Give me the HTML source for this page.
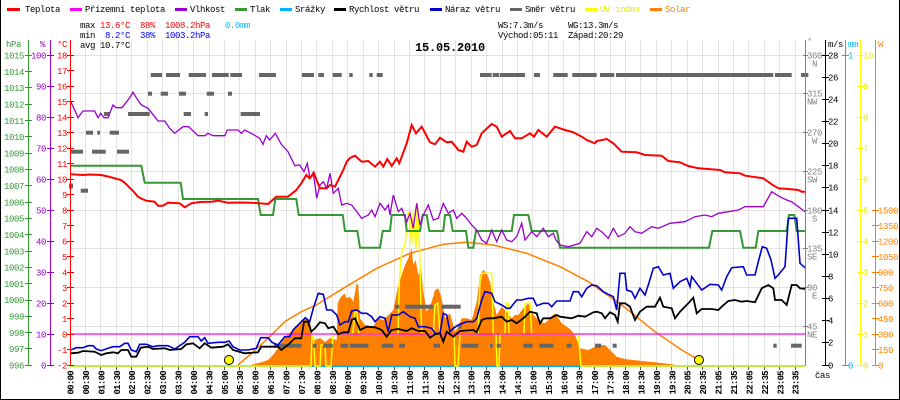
<!DOCTYPE html>
<html><head><meta charset="utf-8"><style>
html,body{margin:0;padding:0;background:#fff;}
svg{display:block;}
text{font-family:"Liberation Mono","DejaVu Sans Mono",monospace;font-size:9px;letter-spacing:-0.4px;}
.t{font-weight:bold;font-size:9px;letter-spacing:-0.7px;}
</style></head><body>
<svg width="900" height="400" viewBox="0 0 900 400" xmlns="http://www.w3.org/2000/svg">
<rect x="0" y="0" width="900" height="400" fill="#fff"/>
<path d="M0.5,0V399.5H899.5V0" fill="none" stroke="#000" stroke-width="1"/>

<!-- grid -->
<path stroke="#e6e1e1" stroke-width="1" fill="none" d="M85.5,40V365M100.5,40V365M116.5,40V365M131.5,40V365M147.5,40V365M162.5,40V365M178.5,40V365M193.5,40V365M209.5,40V365M224.5,40V365M239.5,40V365M255.5,40V365M270.5,40V365M286.5,40V365M301.5,40V365M316.5,40V365M332.5,40V365M347.5,40V365M363.5,40V365M378.5,40V365M394.5,40V365M409.5,40V365M424.5,40V365M440.5,40V365M455.5,40V365M471.5,40V365M486.5,40V365M502.5,40V365M517.5,40V365M532.5,40V365M548.5,40V365M563.5,40V365M579.5,40V365M594.5,40V365M610.5,40V365M625.5,40V365M640.5,40V365M656.5,40V365M671.5,40V365M687.5,40V365M702.5,40V365M718.5,40V365M733.5,40V365M748.5,40V365M764.5,40V365M779.5,40V365M795.5,40V365
M70,55.5H805M70,93.5H805M70,132.5H805M70,171.5H805M70,210.5H805M70,248.5H805M70,287.5H805M70,326.5H805"/>

<!-- x ticks -->
<path stroke="#555" stroke-width="1" fill="none" d="M85.5,367V370M100.5,367V370M116.5,367V370M131.5,367V370M147.5,367V370M162.5,367V370M178.5,367V370M193.5,367V370M209.5,367V370M224.5,367V370M239.5,367V370M255.5,367V370M270.5,367V370M286.5,367V370M301.5,367V370M316.5,367V370M332.5,367V370M347.5,367V370M363.5,367V370M378.5,367V370M394.5,367V370M409.5,367V370M424.5,367V370M440.5,367V370M455.5,367V370M471.5,367V370M486.5,367V370M502.5,367V370M517.5,367V370M532.5,367V370M548.5,367V370M563.5,367V370M579.5,367V370M594.5,367V370M610.5,367V370M625.5,367V370M640.5,367V370M656.5,367V370M671.5,367V370M687.5,367V370M702.5,367V370M718.5,367V370M733.5,367V370M748.5,367V370M764.5,367V370M779.5,367V370M795.5,367V370"/>

<!-- solar area -->
<polygon fill="#ff8000" points="250,365 254.7,364 262,362 268,360 273,355 278,348.3 283,340 288,334.3 294.7,329 301.7,320 305,318 310,320 311.7,335 315,340 320,338 325,342 330,338 336.7,340 337.7,303.3 340,298.3 344.3,293.3 346.7,298.3 350,296.7 353.3,301.7 356.7,283.3 358.3,285 360,318.3 365,325 373.3,326.7 378.3,318.3 383.3,320 388.3,315 393.3,310 398.3,285 401.7,275 405,265 408.3,258.3 411.7,248.3 413.3,265 415.7,260 418.3,275 421,268.3 423.3,291.7 426.7,311.7 431.7,301.7 435,290 438.3,288.3 441.7,298.3 445,318.3 450,313.3 455,331.7 458.3,326.7 461.7,318.3 466.7,318.3 471.7,320 476.7,301.7 480,275 483.3,270 486.7,273.3 490,281.7 493.3,301.7 496.7,315 501.7,306.7 506.7,311.7 511.7,318.3 515,315 518.3,315 523.3,308.3 528.3,303.3 533.3,315 540,321.7 545,323.3 550,318.3 555,313.3 561.7,323.3 570,329 575,335 580,348.3 588.3,350 598.3,345 605,345 611.7,351.7 616.7,356.7 625,359 641.7,361 655,362.3 671.7,364.3 675,365"/>
<!-- solar theoretical -->
<polyline fill="none" stroke="#ff8000" stroke-width="1.5" points="238,365 252,353 268,338.3 284.7,321.7 301.3,311.7 316.3,305 343.3,288.3 376.7,268.3 410,253.3 443.3,244.3 466.7,242.3 493.3,245 526.7,253.3 560,266.7 588.3,281.7 621.7,305 655,331.7 681.7,350 699,360"/>

<!-- rain 0 -->
<line x1="70" y1="366" x2="805" y2="366" stroke="#00b4ff" stroke-width="2"/>
<!-- UV -->
<polyline fill="none" stroke="#ffff00" stroke-width="1.5" points="70,366 311,366 312,334 313.3,334 315,366 320,366 321,345 325,345 326,366 331,366 333,334 352.7,334 355,311.7 357,311.7 359,334 398,334 399.3,281.7 401.7,251.7 405,245 408.3,211.7 410,221.7 411.7,245 413.3,211.7 416,248.3 417.3,203.3 419.3,240 421.7,334 433.3,334 435,305 437.7,303 440,334 454,334 455,366 458,366 460,334 478,334 480,281.7 481.7,273.3 491.7,273.3 493.3,334 496,334 497,366 499,366 500,334 505,334 506,303.3 508.3,303.3 509,334 524,334 525,303.3 530,303.3 531.7,334 578.3,334 581,366 805,366"/>

<!-- wind direction bars -->
<g fill="#666">
<rect x="150.7" y="73" width="11.3" height="4"/><rect x="166" y="73" width="14" height="4"/><rect x="188.7" y="73" width="17.3" height="4"/><rect x="212" y="73" width="16.7" height="4"/><rect x="230.3" y="73" width="11.7" height="4"/><rect x="259" y="73" width="17" height="4"/><rect x="302" y="73" width="12" height="4"/><rect x="318.3" y="73" width="5.7" height="4"/><rect x="332.7" y="73" width="9" height="4"/><rect x="349.3" y="73" width="3.4" height="4"/><rect x="369.3" y="73" width="3.4" height="4"/><rect x="376.7" y="73" width="6" height="4"/><rect x="480" y="73" width="11.7" height="4"/><rect x="492.7" y="73" width="6.6" height="4"/><rect x="500" y="73" width="25" height="4"/><rect x="534" y="73" width="6" height="4"/><rect x="553.3" y="73" width="14.4" height="4"/><rect x="572.3" y="73" width="24.4" height="4"/><rect x="600" y="73" width="14.3" height="4"/><rect x="616" y="73" width="157.3" height="4"/><rect x="775" y="73" width="16.7" height="4"/><rect x="801" y="73" width="7.3" height="4"/>
<rect x="148" y="91.7" width="4" height="4"/><rect x="160.7" y="91.7" width="7.3" height="4"/><rect x="179" y="91.7" width="7" height="4"/><rect x="206.7" y="91.7" width="7.3" height="4"/><rect x="228" y="91.7" width="4" height="4"/>
<rect x="104" y="112" width="5.7" height="4"/><rect x="128" y="112" width="21.7" height="4"/><rect x="183.7" y="112" width="7.3" height="4"/><rect x="204.7" y="112" width="3.3" height="4"/><rect x="240.7" y="112" width="19.3" height="4"/>
<rect x="86" y="130.7" width="7" height="4"/><rect x="97.3" y="130.7" width="2.7" height="4"/><rect x="109.7" y="130.7" width="9.3" height="4"/>
<rect x="70.7" y="149.7" width="12.3" height="4"/><rect x="92" y="149.7" width="13.7" height="4"/><rect x="117" y="149.7" width="12" height="4"/>
<rect x="69" y="183.5" width="4" height="5"/><rect x="80.7" y="188.7" width="7.3" height="4"/>
<rect x="395" y="304.7" width="4.3" height="4"/><rect x="405" y="304.7" width="28.3" height="4"/><rect x="441.7" y="304.7" width="19" height="4"/>
<rect x="458.3" y="324.7" width="3.4" height="4"/>
<rect x="274" y="343.7" width="27.3" height="4"/><rect x="312.7" y="343.7" width="4" height="4"/><rect x="323.3" y="343.7" width="9.4" height="4"/><rect x="340.7" y="343.7" width="7.6" height="4"/><rect x="350" y="343.7" width="18.3" height="4"/><rect x="381.7" y="343.7" width="11.6" height="4"/><rect x="399.3" y="343.7" width="5.7" height="4"/><rect x="433.3" y="343.7" width="6.7" height="4"/><rect x="461.7" y="343.7" width="16.6" height="4"/><rect x="490" y="343.7" width="2.7" height="4"/><rect x="496.7" y="343.7" width="4" height="4"/><rect x="523.3" y="343.7" width="9.4" height="4"/><rect x="539.3" y="343.7" width="14" height="4"/><rect x="566.7" y="343.7" width="5" height="4"/><rect x="595" y="343.7" width="6" height="4"/><rect x="612.7" y="343.7" width="4" height="4"/><rect x="773.3" y="343.7" width="3.4" height="4"/><rect x="791" y="343.7" width="10.7" height="4"/>
</g>

<!-- ground temperature -->
<line x1="70" y1="334" x2="805" y2="334" stroke="#ff00ff" stroke-width="1.3"/>

<!-- pressure -->
<path fill="none" stroke="#339933" stroke-width="2" d="M70,165.7 H141.3 L144.7,182.7 H180.7 L183,199 H258 L260.7,215 H273 L275.3,199 H296.3 L298.7,215 H342.7 L345,231 H357.3 L360,247.7 H380 L382.7,231 H390 L391.7,215 H405 L406.7,231 H420 L422.7,215 H426.7 L429.3,231 H443.3 L445,215 H450 L452.7,231 H466 L468.3,247.7 H473.3 L476,231 H511.7 L514,215 H528.3 L531.7,231 H557 L560,247.7 H709 L712.3,231 H740 L743.3,247.7 H755.7 L758.3,231 H786.7 L789,215 H794.3 L796.7,231 H805.7"/>

<!-- humidity -->
<polyline fill="none" stroke="#9900cc" stroke-width="1.3" points="70.7,101.7 74.7,110 78,117.7 83,111 94.7,111 98,117.7 100.7,113.3 104,117.7 108,117.7 113,105 116.3,107.7 122,107.7 129.7,97.7 133,92.3 136.3,97.7 141.3,105 148,108.3 154.7,116.7 158,121 164.7,121 169.7,128.3 174.7,133.3 183,126.7 188.7,126.7 198,135.7 204.7,135.7 208,133.3 213,135.7 224.7,135.7 227.3,130 238,130 241.3,133.3 244.7,130 253,134.3 259.7,138.3 263,144.3 266.3,135.7 269.7,140 275.3,133.3 281.3,144.3 288,151.7 291.3,158.3 294.7,165.7 299.7,165 304,171.7 307.3,163.3 310,178.3 313.3,172.3 316.7,198.3 320,185 323.3,181.7 326.7,188.3 330,173.3 333.3,193.3 338.3,188.3 341.7,205 346.7,203.3 351.7,205 361.7,218.3 368.3,215 371.7,210 375,216.7 380,203.3 385,210 388.3,205 390,215 393.3,195 398.3,211.7 401.7,208.3 406.7,221.7 410,213.3 413.3,228.3 416.7,203.3 420,225 423.3,215 428.3,205 433.3,220 438.3,218.3 443.3,203.3 448.3,213.3 453.3,210 456.7,218.3 461.7,213.3 466.7,218.3 471.7,225 476.7,230 481.7,240 486.7,243.3 491.7,230 496.7,241.7 501.7,230 506.7,240 511.7,241.7 516.7,236.7 521.7,223.3 525,240 531.7,231.7 536.7,236.7 543.3,228.3 548.3,236.7 553.3,233.3 556,240 560,245 568.3,246.7 580,243.3 586.7,231.7 591.7,236.7 596.7,228.3 601.7,231.7 608.3,238.3 613.3,228.3 618.3,236.7 625,233.3 630,226.7 635,231.7 641.7,233.3 651.7,226.7 658.3,228.3 670,223.3 685,221.7 695,216.7 705,215 711.7,216.7 718.3,213.3 728.3,211.7 738.3,210 745,206.7 755,206.7 763.3,206.7 771.7,191.7 776.7,195 781.7,197.7 786.7,200 791.7,201.7 798.3,206.7 805,211.7"/>

<!-- temperature -->
<polyline fill="none" stroke="#ff0000" stroke-width="2" points="70.7,174.3 83,175 90,174.5 101,175 108,176.5 114.7,178.3 121,180 125,183 129.7,187.7 134,192 138,196.7 142,199 146.3,200.7 154.7,201.7 158,205.7 163,205.7 168,202.7 179.7,203.3 184.7,207.3 191.3,203.3 200,202 211.3,201.7 218,200.7 228,202.7 240,202.5 251.3,202.7 268,204 276.3,196.7 288,196.7 296.3,190 301.3,183.3 306.3,175 309.7,178.3 314,173.3 317.3,181.7 320,188.3 326.7,188.3 330,185 335,186.7 343.3,170 346.7,161.7 350,158 355,155.7 361.7,161.7 368.3,161 375,166.7 380,161.7 383.3,166.7 387.3,159 391.7,166 396.7,158.3 399.3,163.3 406.7,143.3 411.7,125 416,133.3 421.7,126.7 430,142.3 435,144.3 440,137.7 446.7,142.3 451.7,141.7 458.3,150 463.3,151.7 466.7,141.7 471.7,146.7 476.7,145 481.7,133.3 491.7,124 496.7,126.7 501.7,136.7 510,131 515,138.3 521.7,138.3 530,133.3 534,136.7 538.3,130 546.7,136.7 555,126.7 560,128.3 565,130 573.3,132.3 581.7,136.7 586.7,140 595,143.3 596.7,141 606.7,139 613.3,143.3 621.7,151.7 636.7,152.3 645,155 661.7,155.7 668.3,161 680,162.3 688.3,166 698.3,168.3 720,170 725,172.3 740,173.3 745,175.7 763.3,178.3 771.7,184.3 778.3,188.3 788.3,189 798.3,190 801.7,191.7 805.7,191.7"/>

<!-- gust -->
<polyline fill="none" stroke="#0000cc" stroke-width="1.6" points="70.7,350 76.3,347.7 83,347.7 88,345.7 93,345.7 96.3,349 101.3,350.7 108,348.3 113,346.7 119.7,346.7 124.7,343.3 128,343.3 131.3,350 136.3,351.7 139.7,344.3 146.3,344.3 153,346.7 158,345.7 168,345.7 174.7,349 179.7,345.7 184.7,342.3 189.7,336.7 198,336.7 201.3,341 204.7,337.7 208,343.3 218,342.3 224.7,342.3 229,341 233,346.7 239.7,350 248,350 256.3,348.3 260.7,337.7 268,337.7 272,342.3 278,345 284.7,336.7 289.7,336.7 293,330 301.3,321.7 305.3,317.7 309.7,321.7 313.3,308.3 318.3,293.3 323.3,294.3 326.7,310 331.7,310 336.7,315 340,325 345,321.7 348.3,321.7 351.7,311 356.7,310 361.7,313.3 366.7,313.3 371.7,316.7 375,321.7 380,316.7 385,318.3 388.3,331.7 391.7,315 398.3,315 403.3,311.7 410,316.7 415,318.3 418.3,326.7 425,326.7 431.7,328.3 435,333.3 440,333.3 443.3,313.3 446.7,315 450,331.7 453.3,328.3 458.3,325 466.7,321.7 473.3,321.7 476.7,318.3 481.7,300 485,291.7 491.7,293.3 495,301.7 501.7,305 506.7,308.3 510,308.3 516.7,300 521.7,300 528.3,298.3 533.3,298.3 536.7,305.7 543.3,303.3 548.3,303.3 551.7,306.7 556.7,301 570,301 573.3,291.7 578.3,291.7 581.7,296.7 586.7,288.3 591.7,285 596.7,285.7 603.3,291.7 608.3,294.3 613.3,296.7 616.7,310 620,273.3 625,273.3 626.7,290 631.7,291.7 635,298.3 640,288.3 645,295 648.3,285 653.3,268.3 658.3,266.7 663.3,275 670,273.3 673.3,288.3 680,281.7 686.7,278.3 690,286.7 691.7,276.7 696.7,283.3 701.7,290 710,284.3 718.3,285 721.7,290 726.7,276.7 731.7,267.7 743.3,266.7 746.7,275 755,275 758.3,261.7 762.3,246.7 766.7,248.3 771,260 775,278.3 778.3,275 785,266.7 788.3,218.3 796.7,218.3 800,263.3 805.7,268.3"/>

<!-- wind speed -->
<polyline fill="none" stroke="#000" stroke-width="1.8" points="70.7,353.3 78,352.7 83,351 94.7,351.7 101.3,355 106.3,353.3 113,352.3 118,353.3 121.3,350 128,350 131.3,356.7 136.3,356.7 140.7,347.7 148,346.7 153,349 164.7,348.3 169.7,350 181.3,349 186.3,344.3 193,343.3 199.7,348.3 204.7,343.3 211.3,347.7 223,346.7 228,344.3 233,350 244.7,353.3 258,352.3 261.3,346.7 278,346.7 281.3,350 288,345 294.7,338.3 301.3,338.3 304,321.7 308,321.7 311.3,331.7 315,328.3 320,322.3 325,323.3 328.3,328.3 333.3,326.7 338.3,334.3 343.3,332.3 348.3,332.3 351.7,320 355,318.3 360,330 366.7,326.7 375,327.3 381.7,330 386.7,336.7 391.7,330 398.3,329 406.7,331 411.7,328.3 418.3,331 425,331 430,337.7 435,334.3 440,333.3 443.3,341.7 446.7,331.7 453.3,336.7 460,331 473.3,330 476.7,332.3 481.7,320 486.7,318.3 493.3,318.3 501.7,316.7 506.7,321.7 511.7,320 516.7,323.3 523.3,318.3 530,311.7 536.7,313.3 540,323.3 543.3,318.3 550,318.3 556.7,315 560,316.7 571.7,318.3 578.3,315.7 585,316.7 588.3,315 593.3,312.3 596.7,311.7 601.7,313.3 605,318.3 610,312.3 615,315 617.7,321.7 620,303.3 625,303.3 630,306.7 635,320 640,311.7 646.7,306.7 655,306.7 660,297.7 663.3,306.7 671.7,308.3 675,318.3 680,311.7 688.3,303.3 693.3,297.7 696.7,313.3 701.7,309 711.7,309 718.3,310 721.7,306.7 728.3,301 735,300 741.7,301.7 746.7,301 755,302.3 761.7,288.3 768.3,285 773.3,288.3 775,300 781.7,300 786.7,305 791.7,285 796.7,285 800,288.3 805.7,289"/>

<!-- sunrise / sunset -->
<circle cx="229" cy="360" r="4.5" fill="#ffff00" stroke="#000" stroke-width="1"/>
<circle cx="699" cy="360" r="4.5" fill="#ffff00" stroke="#000" stroke-width="1"/>

<!-- left axes -->
<g stroke-width="1" fill="none">
<path stroke="#339933" d="M28.5,40V366M25,55.5H32M25,71.5H32M25,87.5H32M25,104.5H32M25,120.5H32M25,136.5H32M25,153.5H32M25,169.5H32M25,185.5H32M25,202.5H32M25,218.5H32M25,234.5H32M25,251.5H32M25,267.5H32M25,283.5H32M25,300.5H32M25,316.5H32M25,332.5H32M25,348.5H32M25,365.5H32"/>
<path stroke="#9900cc" d="M50.5,40V366M47,55.5H54M47,86.5H54M47,117.5H54M47,148.5H54M47,179.5H54M47,210.5H54M47,241.5H54M47,272.5H54M47,303.5H54M47,334.5H54M47,365.5H54"/>
<path stroke="#ff0000" d="M70.5,40V366M67,55.5H74M67,70.5H74M67,86.5H74M67,101.5H74M67,117.5H74M67,132.5H74M67,148.5H74M67,163.5H74M67,179.5H74M67,194.5H74M67,210.5H74M67,225.5H74M67,241.5H74M67,256.5H74M67,272.5H74M67,287.5H74M67,303.5H74M67,318.5H74M67,334.5H74M67,349.5H74M67,365.5H74"/>
</g>
<g fill="#339933" text-anchor="end">
<text x="6" y="47" text-anchor="start">hPa</text>
<text x="24" y="58.5">1015</text><text x="24" y="74.8">1014</text><text x="24" y="91.1">1013</text><text x="24" y="107.4">1012</text><text x="24" y="123.8">1011</text><text x="24" y="140.1">1010</text><text x="24" y="156.4">1009</text><text x="24" y="172.7">1008</text><text x="24" y="189">1007</text><text x="24" y="205.3">1006</text><text x="24" y="221.7">1005</text><text x="24" y="238">1004</text><text x="24" y="254.3">1003</text><text x="24" y="270.6">1002</text><text x="24" y="286.9">1001</text><text x="24" y="303.2">1000</text><text x="24" y="319.6">999</text><text x="24" y="335.9">998</text><text x="24" y="352.2">997</text><text x="24" y="368.5">996</text>
</g>
<g fill="#9900cc" text-anchor="end">
<text x="45" y="47">%</text>
<text x="46" y="58.5">100</text><text x="46" y="89.5">90</text><text x="46" y="120.5">80</text><text x="46" y="151.5">70</text><text x="46" y="182.5">60</text><text x="46" y="213.5">50</text><text x="46" y="244.5">40</text><text x="46" y="275.5">30</text><text x="46" y="306.5">20</text><text x="46" y="337.5">10</text><text x="46" y="368.5">0</text>
</g>
<g fill="#ff0000" text-anchor="end">
<text x="67" y="47">°C</text>
<text x="67" y="58.5">18</text><text x="67" y="74">17</text><text x="67" y="89.5">16</text><text x="67" y="105">15</text><text x="67" y="120.5">14</text><text x="67" y="136">13</text><text x="67" y="151.5">12</text><text x="67" y="167">11</text><text x="67" y="182.5">10</text><text x="67" y="198">9</text><text x="67" y="213.5">8</text><text x="67" y="229">7</text><text x="67" y="244.5">6</text><text x="67" y="260">5</text><text x="67" y="275.5">4</text><text x="67" y="291">3</text><text x="67" y="306.5">2</text><text x="67" y="322">1</text><text x="67" y="337.5">0</text><text x="67" y="353">-1</text><text x="67" y="368.5">-2</text>
</g>

<!-- right axes -->
<g stroke-width="1" fill="none">
<path stroke="#808080" d="M805.5,40V366M803,55.5H808M803,93.5H808M803,132.5H808M803,171.5H808M803,210.5H808M803,248.5H808M803,287.5H808M803,326.5H808"/>
<path stroke="#000" d="M825.5,40V366M822,55.5H829M822,77.5H829M822,99.5H829M822,121.5H829M822,143.5H829M822,165.5H829M822,187.5H829M822,210.5H829M822,232.5H829M822,254.5H829M822,276.5H829M822,298.5H829M822,320.5H829M822,342.5H829M822,365.5H829"/>
<path stroke="#00b4ff" d="M845.5,40V366M842,55.5H849M842,365.5H849"/>
<path stroke="#ffff00" d="M860.5,40V366M857,55.5H864M857,86.5H864M857,117.5H864M857,148.5H864M857,179.5H864M857,210.5H864M857,241.5H864M857,272.5H864M857,303.5H864M857,334.5H864M857,365.5H864"/>
<path stroke="#ff8000" d="M875.5,40V366M872,210.5H879M872,225.5H879M872,241.5H879M872,256.5H879M872,272.5H879M872,287.5H879M872,303.5H879M872,318.5H879M872,334.5H879M872,349.5H879M872,365.5H879"/>
</g>
<g fill="#808080">
<text x="807" y="44">°</text>
<text x="807" y="58.5">360</text><text x="817" y="66.5" text-anchor="end">N</text>
<text x="807" y="96.5">315</text><text x="817" y="104.5" text-anchor="end">NW</text>
<text x="807" y="135.5">270</text><text x="817" y="143.5" text-anchor="end">W</text>
<text x="807" y="174.5">225</text><text x="817" y="182.5" text-anchor="end">SW</text>
<text x="807" y="213.5">180</text><text x="817" y="221.5" text-anchor="end">S</text>
<text x="807" y="251.5">135</text><text x="817" y="259.5" text-anchor="end">SE</text>
<text x="807" y="290.5">90</text><text x="817" y="298.5" text-anchor="end">E</text>
<text x="807" y="329.5">45</text><text x="817" y="337.5" text-anchor="end">NE</text>
</g>
<g fill="#000">
<text x="828" y="47">m/s</text>
<text x="828" y="58.5">28</text><text x="828" y="80.5">26</text><text x="828" y="102.5">24</text><text x="828" y="124.5">22</text><text x="828" y="146.5">20</text><text x="828" y="168.5">18</text><text x="828" y="190.5">16</text><text x="828" y="213.5">14</text><text x="828" y="235.5">12</text><text x="828" y="257.5">10</text><text x="828" y="279.5">8</text><text x="828" y="301.5">6</text><text x="828" y="323.5">4</text><text x="828" y="345.5">2</text><text x="828" y="368.5">0</text>
<text x="815" y="378">čas</text>
</g>
<g fill="#00b4ff">
<text x="848" y="47">mm</text><text x="848" y="58.5">1</text><text x="848" y="368.5">0</text>
</g>
<g fill="#e8e800">
<text x="863" y="58.5">10</text><text x="863" y="89.5">9</text><text x="863" y="120.5">8</text><text x="863" y="151.5">7</text><text x="863" y="182.5">6</text><text x="863" y="213.5">5</text><text x="863" y="244.5">4</text><text x="863" y="275.5">3</text><text x="863" y="306.5">2</text><text x="863" y="337.5">1</text><text x="863" y="368.5">0</text>
</g>
<g fill="#ff8000">
<text x="878" y="47">W</text>
<text x="878" y="213.5">1500</text><text x="878" y="229">1350</text><text x="878" y="244.5">1200</text><text x="878" y="260">1050</text><text x="878" y="275.5">900</text><text x="878" y="291">750</text><text x="878" y="306.5">600</text><text x="878" y="322">450</text><text x="878" y="337.5">300</text><text x="878" y="353">150</text><text x="878" y="368.5">0</text>
</g>

<!-- legend -->
<rect x="7" y="8" width="13" height="3" fill="#ff0000"/><text x="25" y="12">Teplota</text>
<rect x="70" y="8" width="12" height="3" fill="#ff00ff"/><text x="85" y="12">Přízemní teplota</text>
<rect x="175" y="8" width="12" height="3" fill="#9900cc"/><text x="190" y="12">Vlhkost</text>
<rect x="235" y="8" width="12" height="3" fill="#339933"/><text x="250" y="12">Tlak</text>
<rect x="280" y="8" width="12" height="3" fill="#00b4ff"/><text x="295" y="12">Srážky</text>
<rect x="334" y="8" width="12" height="3" fill="#000"/><text x="349" y="12">Rychlost větru</text>
<rect x="430" y="8" width="12" height="3" fill="#0000cc"/><text x="445" y="12">Náraz větru</text>
<rect x="510" y="8" width="12" height="3" fill="#666"/><text x="525" y="12">Směr větru</text>
<rect x="585" y="8" width="12" height="3" fill="#ffff00"/><text x="600" y="12" fill="#e8e800">UV index</text>
<rect x="650" y="8" width="12" height="3" fill="#ff8000"/><text x="665" y="12" fill="#ff8000">Solar</text>

<!-- stats -->
<text x="80" y="28">max</text><text x="100" y="28" fill="#ff0000">13.6°C</text><text x="140" y="28" fill="#ff0000">88%</text><text x="165" y="28" fill="#ff0000">1008.2hPa</text><text x="225" y="28" fill="#00c0ff">0.0mm</text>
<text x="80" y="38">min</text><text x="105" y="38" fill="#0000ff">8.2°C</text><text x="140" y="38" fill="#0000ff">38%</text><text x="165" y="38" fill="#0000ff">1003.2hPa</text>
<text x="80" y="48">avg</text><text x="100" y="48">10.7°C</text>
<text x="498" y="28">WS:7.3m/s</text><text x="568" y="28">WG:13.3m/s</text>
<text x="498" y="38">Východ:05:11</text><text x="568" y="38">Západ:20:29</text>
<text x="415" y="51" style="font-size:12px;font-weight:bold;letter-spacing:-0.2px">15.05.2010</text>

<!-- time labels -->
<g class="t" fill="#000" text-anchor="end">
<text class="t" transform="translate(73.5,371) rotate(-90)">00:00</text>
<text class="t" transform="translate(88.9,371) rotate(-90)">00:30</text>
<text class="t" transform="translate(104.4,371) rotate(-90)">01:00</text>
<text class="t" transform="translate(119.8,371) rotate(-90)">01:30</text>
<text class="t" transform="translate(135.2,371) rotate(-90)">02:00</text>
<text class="t" transform="translate(150.7,371) rotate(-90)">02:30</text>
<text class="t" transform="translate(166.1,371) rotate(-90)">03:00</text>
<text class="t" transform="translate(181.5,371) rotate(-90)">03:30</text>
<text class="t" transform="translate(196.9,371) rotate(-90)">04:00</text>
<text class="t" transform="translate(212.4,371) rotate(-90)">04:30</text>
<text class="t" transform="translate(227.8,371) rotate(-90)">05:00</text>
<text class="t" transform="translate(243.2,371) rotate(-90)">05:30</text>
<text class="t" transform="translate(258.7,371) rotate(-90)">06:00</text>
<text class="t" transform="translate(274.1,371) rotate(-90)">06:30</text>
<text class="t" transform="translate(289.5,371) rotate(-90)">07:00</text>
<text class="t" transform="translate(305,371) rotate(-90)">07:30</text>
<text class="t" transform="translate(320.4,371) rotate(-90)">08:00</text>
<text class="t" transform="translate(335.8,371) rotate(-90)">08:30</text>
<text class="t" transform="translate(351.2,371) rotate(-90)">09:00</text>
<text class="t" transform="translate(366.7,371) rotate(-90)">09:30</text>
<text class="t" transform="translate(382.1,371) rotate(-90)">10:00</text>
<text class="t" transform="translate(397.5,371) rotate(-90)">10:30</text>
<text class="t" transform="translate(413,371) rotate(-90)">11:00</text>
<text class="t" transform="translate(428.4,371) rotate(-90)">11:30</text>
<text class="t" transform="translate(443.8,371) rotate(-90)">12:00</text>
<text class="t" transform="translate(459.3,371) rotate(-90)">12:30</text>
<text class="t" transform="translate(474.7,371) rotate(-90)">13:00</text>
<text class="t" transform="translate(490.1,371) rotate(-90)">13:30</text>
<text class="t" transform="translate(505.5,371) rotate(-90)">14:00</text>
<text class="t" transform="translate(521,371) rotate(-90)">14:30</text>
<text class="t" transform="translate(536.4,371) rotate(-90)">15:00</text>
<text class="t" transform="translate(551.8,371) rotate(-90)">15:30</text>
<text class="t" transform="translate(567.3,371) rotate(-90)">16:00</text>
<text class="t" transform="translate(582.7,371) rotate(-90)">16:30</text>
<text class="t" transform="translate(598.1,371) rotate(-90)">17:00</text>
<text class="t" transform="translate(613.6,371) rotate(-90)">17:30</text>
<text class="t" transform="translate(629,371) rotate(-90)">18:00</text>
<text class="t" transform="translate(644.4,371) rotate(-90)">18:30</text>
<text class="t" transform="translate(659.8,371) rotate(-90)">19:00</text>
<text class="t" transform="translate(675.3,371) rotate(-90)">19:30</text>
<text class="t" transform="translate(690.7,371) rotate(-90)">20:05</text>
<text class="t" transform="translate(706.1,371) rotate(-90)">20:35</text>
<text class="t" transform="translate(721.6,371) rotate(-90)">21:05</text>
<text class="t" transform="translate(737,371) rotate(-90)">21:35</text>
<text class="t" transform="translate(752.4,371) rotate(-90)">22:05</text>
<text class="t" transform="translate(767.9,371) rotate(-90)">22:35</text>
<text class="t" transform="translate(783.3,371) rotate(-90)">23:05</text>
<text class="t" transform="translate(798.7,371) rotate(-90)">23:35</text>
</g>
</svg>
</body></html>
